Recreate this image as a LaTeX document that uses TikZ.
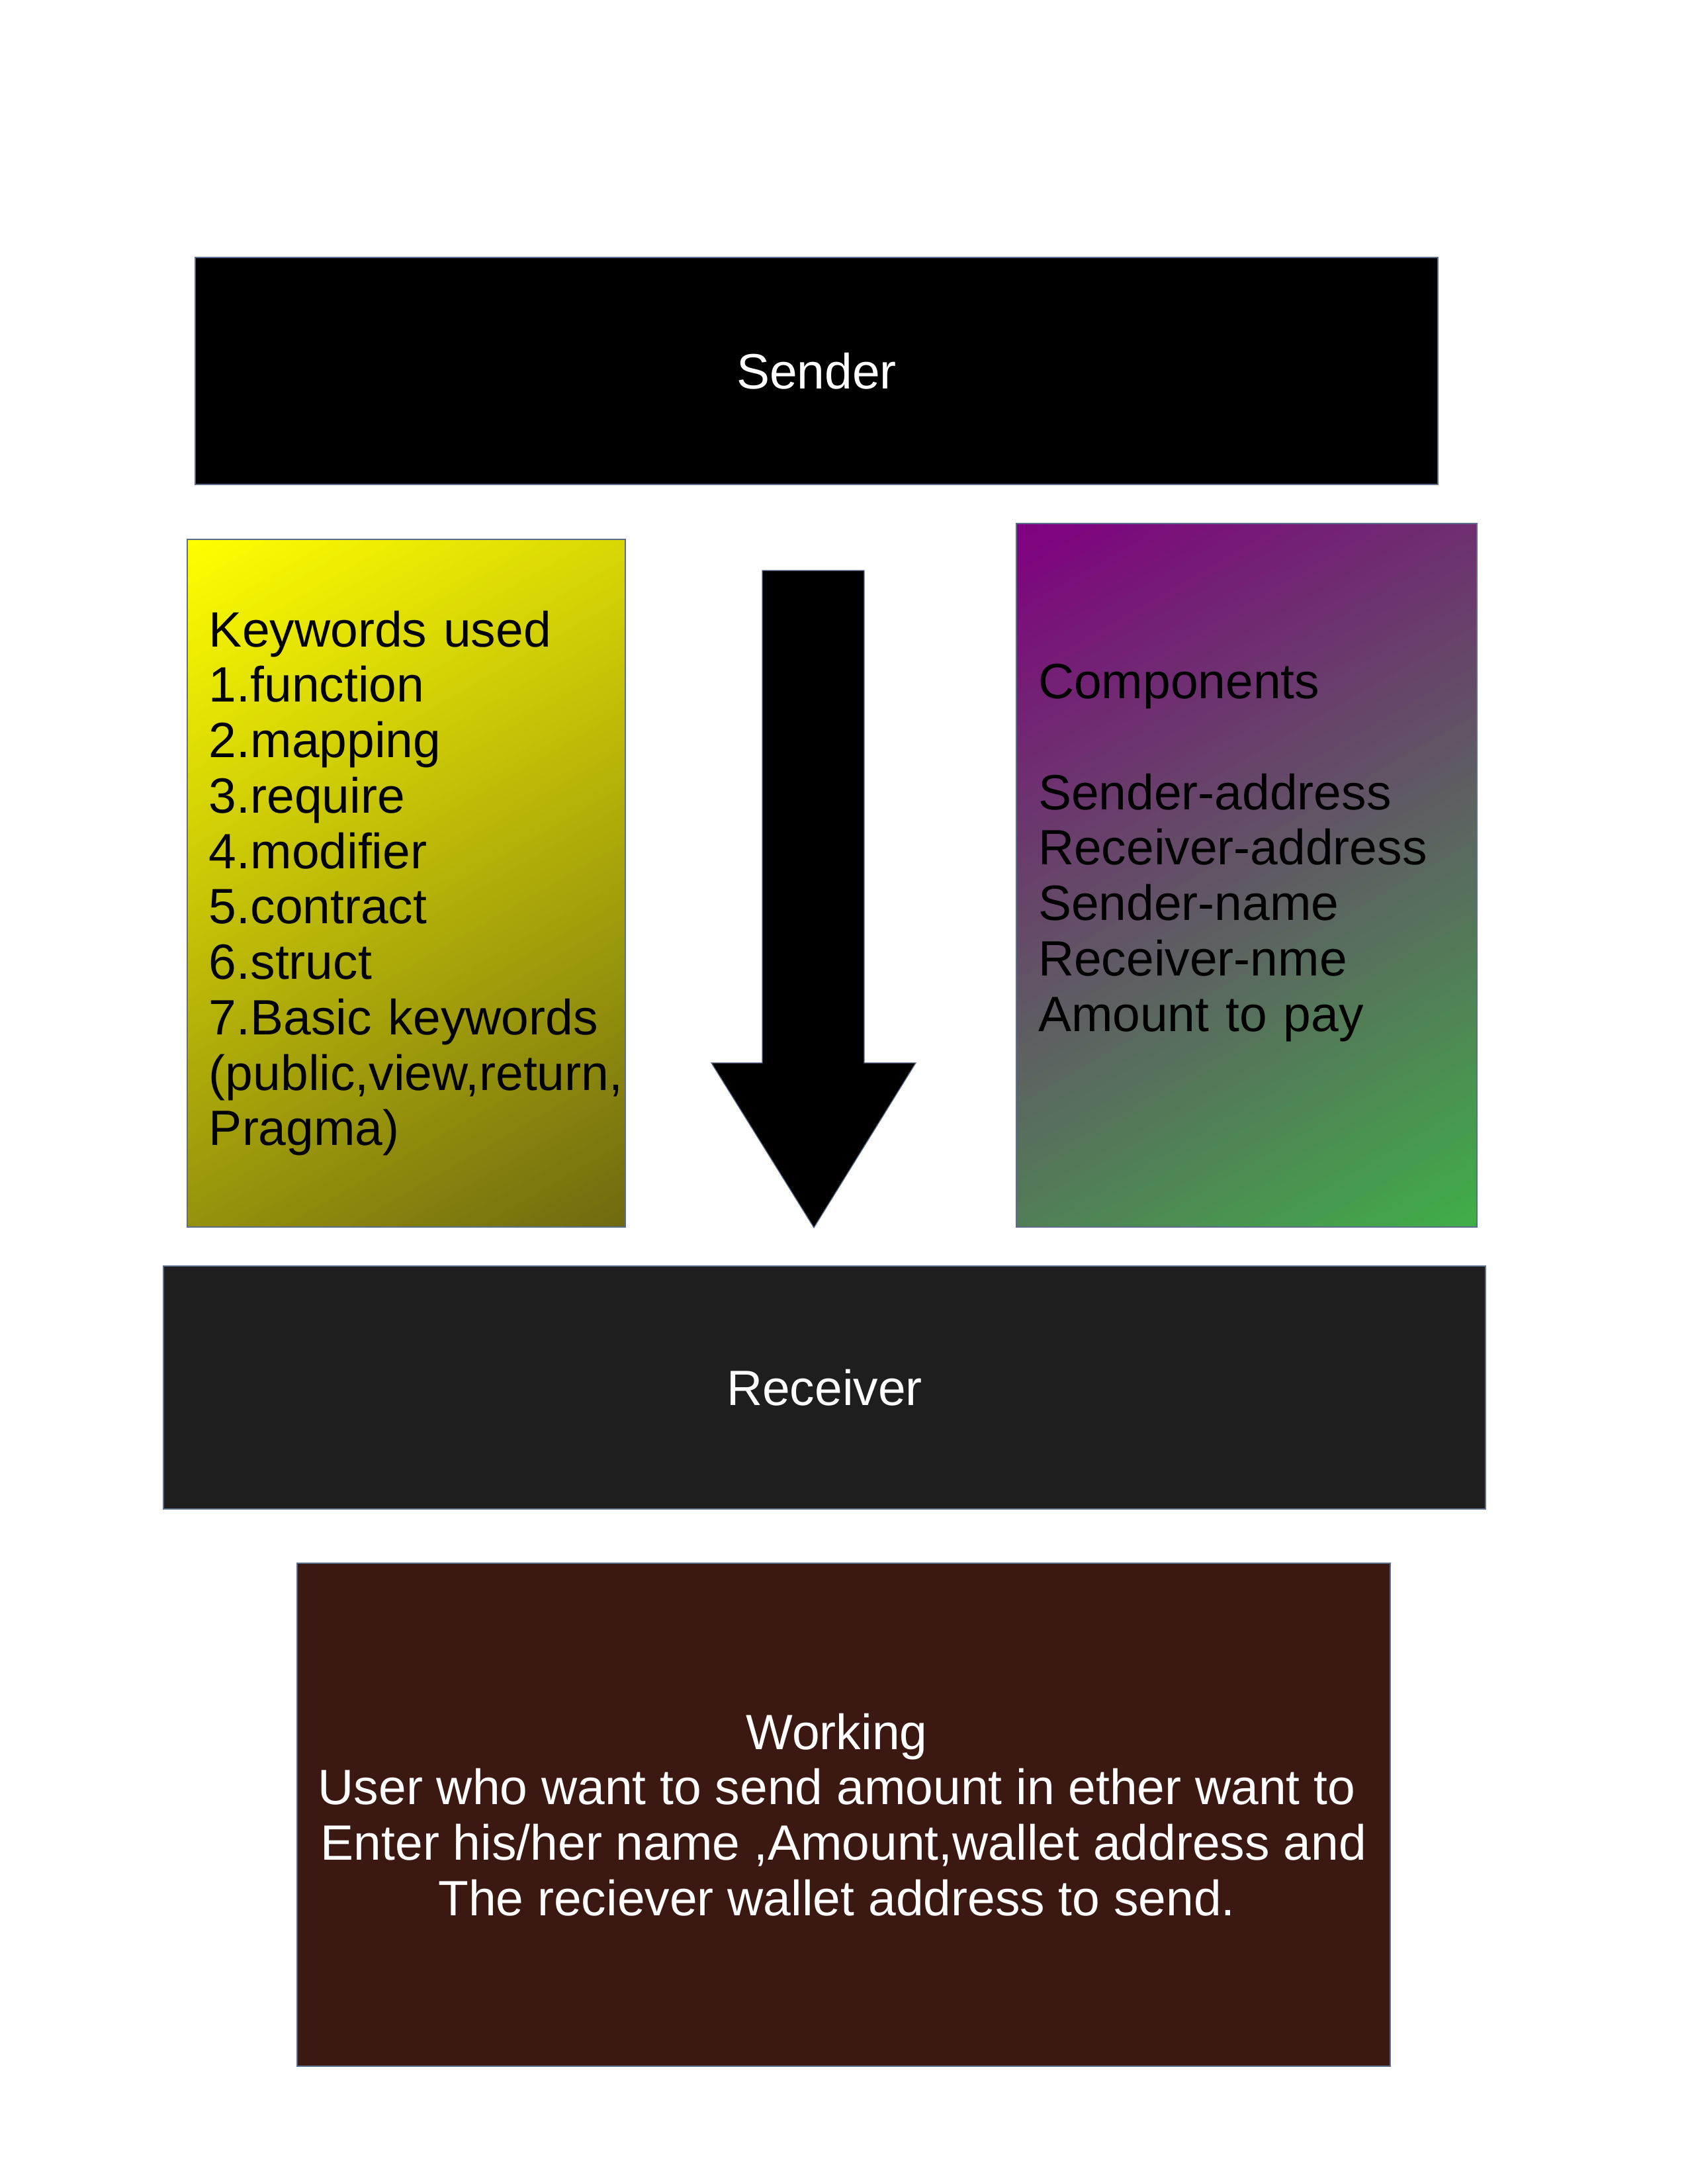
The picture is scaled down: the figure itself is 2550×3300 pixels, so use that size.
\documentclass[tikz,border=0pt]{standalone}
\usepackage{fontspec}
\setmainfont{Liberation Sans}
\usetikzlibrary{backgrounds}

\definecolor{edgeblue}{RGB}{92,110,140}
\definecolor{recvgray}{RGB}{30,30,30}
\definecolor{workbrown}{RGB}{59,24,18}
\definecolor{kwtop}{RGB}{255,255,0}
\definecolor{kwbottom}{RGB}{112,106,16}
\definecolor{comptop}{RGB}{128,0,128}
\definecolor{compbottom}{RGB}{64,174,72}

\begin{document}
\begin{tikzpicture}[x=0.24bp,y=-0.24bp,
        box/.style={rectangle, draw=edgeblue, line width=0.4bp, inner sep=0pt,
            font=\fontsize{18bp}{20.1bp}\selectfont},
        listbox/.style={box, inner xsep=7.92bp, align=left}]
    \useasboundingbox (0,0) rectangle (2550,3300);

    \node[box, fill=black, text=white, minimum width=450.72bp, minimum height=82.32bp]
        (sender) at (1234,560.5) {Sender};

    \node[listbox, text width=143.04bp, minimum width=158.88bp, minimum height=249.36bp]
        (keywords) at (614,1334.5)
        {Keywords used\\1.function\\2.mapping\\3.require\\4.modifier\\5.contract\\6.struct\\7.Basic keywords\\(public,view,return,\\Pragma)};

    \node[listbox, text width=151.2bp, minimum width=167.04bp, minimum height=255.12bp]
        (components) at (1884,1322.5)
        {Components\\[20.1bp]Sender-address\\Receiver-address\\Sender-name\\Receiver-nme\\Amount to pay\\\mbox{}};

    \begin{scope}[on background layer]
        \foreach \boxname/\topcol/\botcol/\len in {keywords/kwtop/kwbottom/1231, components/comptop/compbottom/1269}{
            \begin{scope}
                \clip (\boxname.north west) rectangle (\boxname.south east);
                \begin{scope}[shift={(\boxname.center)}, rotate=30]
                    \foreach \i in {0,...,99}{
                        \pgfmathsetmacro{\pct}{100*\i/99}
                        \pgfmathsetmacro{\ylo}{(\i/100-0.5)*\len}
                        \pgfmathsetmacro{\yhi}{((\i+1)/100-0.5)*\len+2}
                        \fill[\botcol!\pct!\topcol] (-900,\ylo) rectangle (900,\yhi);
                    }
                \end{scope}
            \end{scope}
        }
    \end{scope}

    \fill[draw=edgeblue, line width=0.3bp] (1152,862) -- (1306,862) -- (1306,1606) -- (1384,1606)
        -- (1230,1855) -- (1075,1606) -- (1152,1606) -- cycle;

    \node[box, fill=recvgray, text=white, minimum width=479.52bp, minimum height=88.08bp]
        (receiver) at (1246,2096.5) {Receiver};

    \node[box, fill=workbrown, text=white, align=center, minimum width=396.48bp, minimum height=182.4bp]
        (working) at (1275,2742)
        {Working\kern5bp\\User who want to send amount in ether want to\kern5bp\\Enter his/her name ,Amount,wallet address and\\The reciever wallet address to send.\kern5bp};
\end{tikzpicture}
\end{document}
